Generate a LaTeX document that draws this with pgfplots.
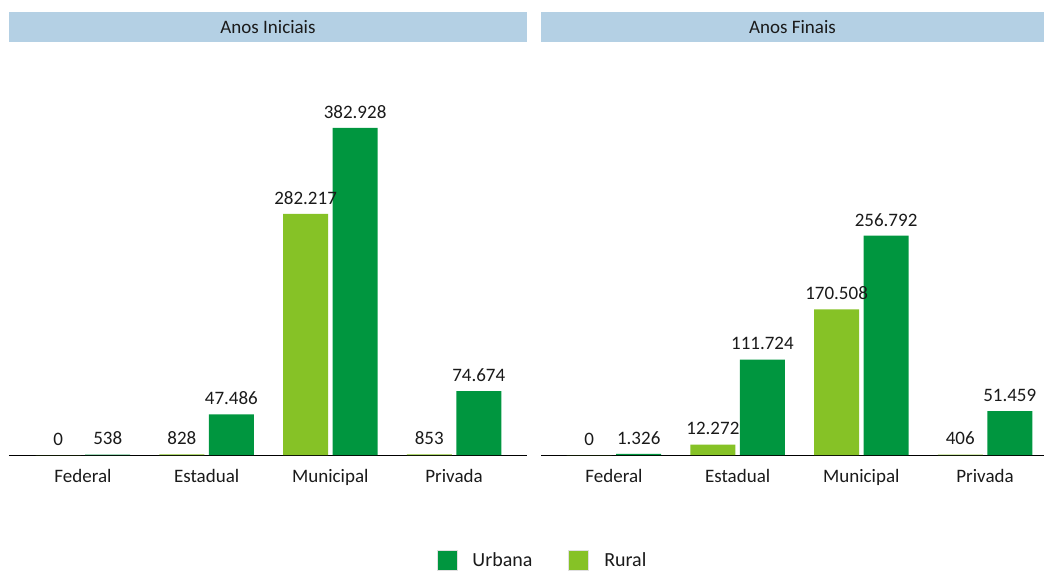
\documentclass[border=0pt]{standalone}
\usepackage{pgfplots}
\pgfplotsset{compat=1.18}
\usepackage{fontspec}
\setmainfont{Carlito}

\definecolor{urbana}{RGB}{0,150,63}
\definecolor{rural}{RGB}{134,194,38}
\definecolor{header}{RGB}{180,208,228}
\definecolor{txt}{RGB}{26,26,26}

\pgfplotsset{
  painel/.style={
    scale only axis,
    anchor=south west,
    height=395pt,
    ymin=0, ymax=462500,
    axis x line=bottom,
    axis y line=none,
    x axis line style={-, black, line width=1pt},
    xtick={0,1,2,3},
    xticklabels={Federal,Estadual,Municipal,Privada},
    xtick style={draw=none},
    xticklabel style={font=\fontsize{19}{22}\selectfont, text=txt, yshift=-7pt},
    ybar,
    bar width=45pt,
    nodes near coords,
    nodes near coords style={font=\fontsize{19}{22}\selectfont, text=txt, yshift=6pt,
      /pgf/number format/.cd, fixed, precision=0, 1000 sep={.}, assume math mode=true},
    title style={at={(rel axis cs:0.5,1)}, anchor=south, yshift=12pt,
      fill=header, minimum height=30pt, inner sep=0pt, text=txt,
      font=\fontsize{19}{22}\selectfont},
    clip=false,
  },
  urb/.style={fill=urbana, draw=none, bar shift=24.75pt},
  rur/.style={fill=rural, draw=none, bar shift=-24.75pt},
}

\begin{document}
\begin{tikzpicture}
\useasboundingbox (0,0) rectangle (1044pt,574pt);

% painel da esquerda
\begin{axis}[painel,
  at={(9pt,119pt)}, width=518pt,
  xmin=-0.598, xmax=3.59,
  title={Anos Iniciais},
  title style={minimum width=518pt},
  legend columns=2,
  legend style={at={(1.029,-0.266)}, anchor=center, draw=none,
    inner sep=1pt, font=\fontsize{20}{23}\selectfont, text=txt,
    nodes={inner sep=1pt},
    /tikz/every odd column/.append style={column sep=14pt},
    /tikz/every even column/.append style={column sep=35pt}},
  legend image code/.code={\filldraw[#1, draw=black!12, line width=0.8pt] (-4pt,-10pt) rectangle (16pt,10pt);},
]
\addplot[urb] coordinates {(0,538) (1,47486) (2,382928) (3,74674)};
\addplot[rur] coordinates {(0,0) (1,828) (2,282217) (3,853)};
\legend{Urbana,Rural}
\end{axis}

% painel da direita
\begin{axis}[painel,
  at={(541pt,119pt)}, width=503pt,
  xmin=-0.59, xmax=3.477,
  title={Anos Finais},
  title style={minimum width=503pt},
]
\addplot[urb] coordinates {(0,1326) (1,111724) (2,256792) (3,51459)};
\addplot[rur] coordinates {(0,0) (1,12272) (2,170508) (3,406)};
\end{axis}
\end{tikzpicture}
\end{document}
